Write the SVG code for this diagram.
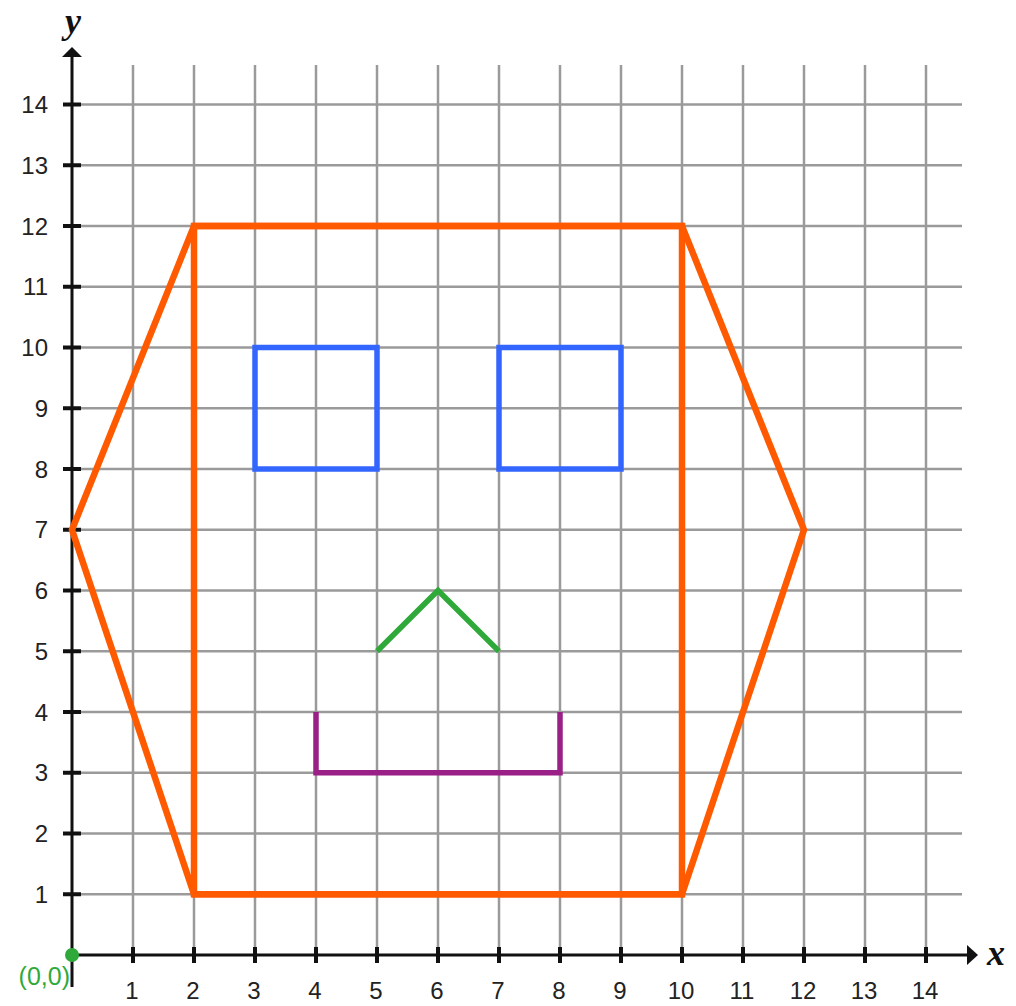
<svg xmlns="http://www.w3.org/2000/svg" width="1016" height="1006" viewBox="0 0 1016 1006">
<style>
.grid line{stroke:#9a9a9a;stroke-width:2.5}
.axis{stroke:#111;stroke-width:3;fill:none}
.tick{stroke:#111;stroke-width:4}
.num{font-family:"Liberation Sans",Arial,sans-serif;font-size:24px;fill:#222}
.ylab{text-anchor:end}
.xlab{text-anchor:middle}
.var{font-family:"Liberation Serif","Times New Roman",serif;font-style:italic;font-weight:bold;font-size:36px;fill:#111}
.orange{fill:none;stroke:#FF5A00;stroke-width:6.5;stroke-linejoin:miter}
.blue{fill:none;stroke:#3366FF;stroke-width:5.5}
.green{fill:none;stroke:#2FAA3A;stroke-width:5.5}
.purple{fill:none;stroke:#9A1F86;stroke-width:5.5}
</style>
<rect width="1016" height="1006" fill="#fff"/>
<g id="grid" class="grid">
<line x1="133" y1="65" x2="133" y2="955"/>
<line x1="194" y1="65" x2="194" y2="955"/>
<line x1="255" y1="65" x2="255" y2="955"/>
<line x1="316" y1="65" x2="316" y2="955"/>
<line x1="377" y1="65" x2="377" y2="955"/>
<line x1="438" y1="65" x2="438" y2="955"/>
<line x1="499" y1="65" x2="499" y2="955"/>
<line x1="560" y1="65" x2="560" y2="955"/>
<line x1="621" y1="65" x2="621" y2="955"/>
<line x1="682" y1="65" x2="682" y2="955"/>
<line x1="743" y1="65" x2="743" y2="955"/>
<line x1="804" y1="65" x2="804" y2="955"/>
<line x1="865" y1="65" x2="865" y2="955"/>
<line x1="926" y1="65" x2="926" y2="955"/>
<line x1="72" y1="894.25" x2="962" y2="894.25"/>
<line x1="72" y1="833.5" x2="962" y2="833.5"/>
<line x1="72" y1="772.75" x2="962" y2="772.75"/>
<line x1="72" y1="712" x2="962" y2="712"/>
<line x1="72" y1="651.25" x2="962" y2="651.25"/>
<line x1="72" y1="590.5" x2="962" y2="590.5"/>
<line x1="72" y1="529.75" x2="962" y2="529.75"/>
<line x1="72" y1="469" x2="962" y2="469"/>
<line x1="72" y1="408.25" x2="962" y2="408.25"/>
<line x1="72" y1="347.5" x2="962" y2="347.5"/>
<line x1="72" y1="286.75" x2="962" y2="286.75"/>
<line x1="72" y1="226" x2="962" y2="226"/>
<line x1="72" y1="165.25" x2="962" y2="165.25"/>
<line x1="72" y1="104.5" x2="962" y2="104.5"/>
</g>
<g id="axes">
<line class="axis" x1="72" y1="56" x2="72" y2="987"/>
<line class="axis" x1="72" y1="955" x2="968" y2="955"/>
<polygon points="72,47 62,57 82,57" fill="#111"/>
<polygon points="978,955 967,945 967,965" fill="#111"/>
<g id="ticks">
<line class="tick" x1="63" y1="894.25" x2="81" y2="894.25"/>
<line class="tick" x1="63" y1="833.5" x2="81" y2="833.5"/>
<line class="tick" x1="63" y1="772.75" x2="81" y2="772.75"/>
<line class="tick" x1="63" y1="712" x2="81" y2="712"/>
<line class="tick" x1="63" y1="651.25" x2="81" y2="651.25"/>
<line class="tick" x1="63" y1="590.5" x2="81" y2="590.5"/>
<line class="tick" x1="63" y1="529.75" x2="81" y2="529.75"/>
<line class="tick" x1="63" y1="469" x2="81" y2="469"/>
<line class="tick" x1="63" y1="408.25" x2="81" y2="408.25"/>
<line class="tick" x1="63" y1="347.5" x2="81" y2="347.5"/>
<line class="tick" x1="63" y1="286.75" x2="81" y2="286.75"/>
<line class="tick" x1="63" y1="226" x2="81" y2="226"/>
<line class="tick" x1="63" y1="165.25" x2="81" y2="165.25"/>
<line class="tick" x1="63" y1="104.5" x2="81" y2="104.5"/>
<line class="tick" x1="133" y1="947" x2="133" y2="963"/>
<line class="tick" x1="194" y1="947" x2="194" y2="963"/>
<line class="tick" x1="255" y1="947" x2="255" y2="963"/>
<line class="tick" x1="316" y1="947" x2="316" y2="963"/>
<line class="tick" x1="377" y1="947" x2="377" y2="963"/>
<line class="tick" x1="438" y1="947" x2="438" y2="963"/>
<line class="tick" x1="499" y1="947" x2="499" y2="963"/>
<line class="tick" x1="560" y1="947" x2="560" y2="963"/>
<line class="tick" x1="621" y1="947" x2="621" y2="963"/>
<line class="tick" x1="682" y1="947" x2="682" y2="963"/>
<line class="tick" x1="743" y1="947" x2="743" y2="963"/>
<line class="tick" x1="804" y1="947" x2="804" y2="963"/>
<line class="tick" x1="865" y1="947" x2="865" y2="963"/>
<line class="tick" x1="926" y1="947" x2="926" y2="963"/>
</g>
<g id="ylabels" class="num ylab">
<text x="48" y="903">1</text>
<text x="48" y="842">2</text>
<text x="48" y="781">3</text>
<text x="48" y="721">4</text>
<text x="48" y="660">5</text>
<text x="48" y="599">6</text>
<text x="48" y="538">7</text>
<text x="48" y="478">8</text>
<text x="48" y="417">9</text>
<text x="48" y="356">10</text>
<text x="48" y="295">11</text>
<text x="48" y="235">12</text>
<text x="48" y="174">13</text>
<text x="48" y="113">14</text>
</g>
<g id="xlabels" class="num xlab">
<text x="132" y="999">1</text>
<text x="193" y="999">2</text>
<text x="254" y="999">3</text>
<text x="315" y="999">4</text>
<text x="376" y="999">5</text>
<text x="437" y="999">6</text>
<text x="498" y="999">7</text>
<text x="559" y="999">8</text>
<text x="620" y="999">9</text>
<text x="681" y="999">10</text>
<text x="742" y="999">11</text>
<text x="803" y="999">12</text>
<text x="864" y="999">13</text>
<text x="925" y="999">14</text>
</g>
<text class="var" x="73" y="33" text-anchor="middle" font-size="30">y</text>
<text class="var" x="996" y="965" text-anchor="middle">x</text>
</g>
<g id="origin">
<circle cx="72" cy="955" r="7" fill="#2FAA3A"/>
<text x="70" y="985" text-anchor="end" font-family="Liberation Sans,Arial,sans-serif" font-size="25" fill="#2FAA3A">(0,0)</text>
</g>
<g id="shapes">
<polygon id="hexagon" class="orange" points="72,529.75 194,226 682,226 804,529.75 682,894.25 194,894.25"/>
<rect id="rectangle" class="orange" x="194" y="226" width="488" height="668.25"/>
<rect id="left-eye" class="blue" x="255" y="347.5" width="122" height="121.5"/>
<rect id="right-eye" class="blue" x="499" y="347.5" width="122" height="121.5"/>
<polyline id="nose" class="green" points="377,651.25 438,590.5 499,651.25"/>
<polyline id="mouth" class="purple" points="316,712 316,772.75 560,772.75 560,712"/>
</g>
</svg>
